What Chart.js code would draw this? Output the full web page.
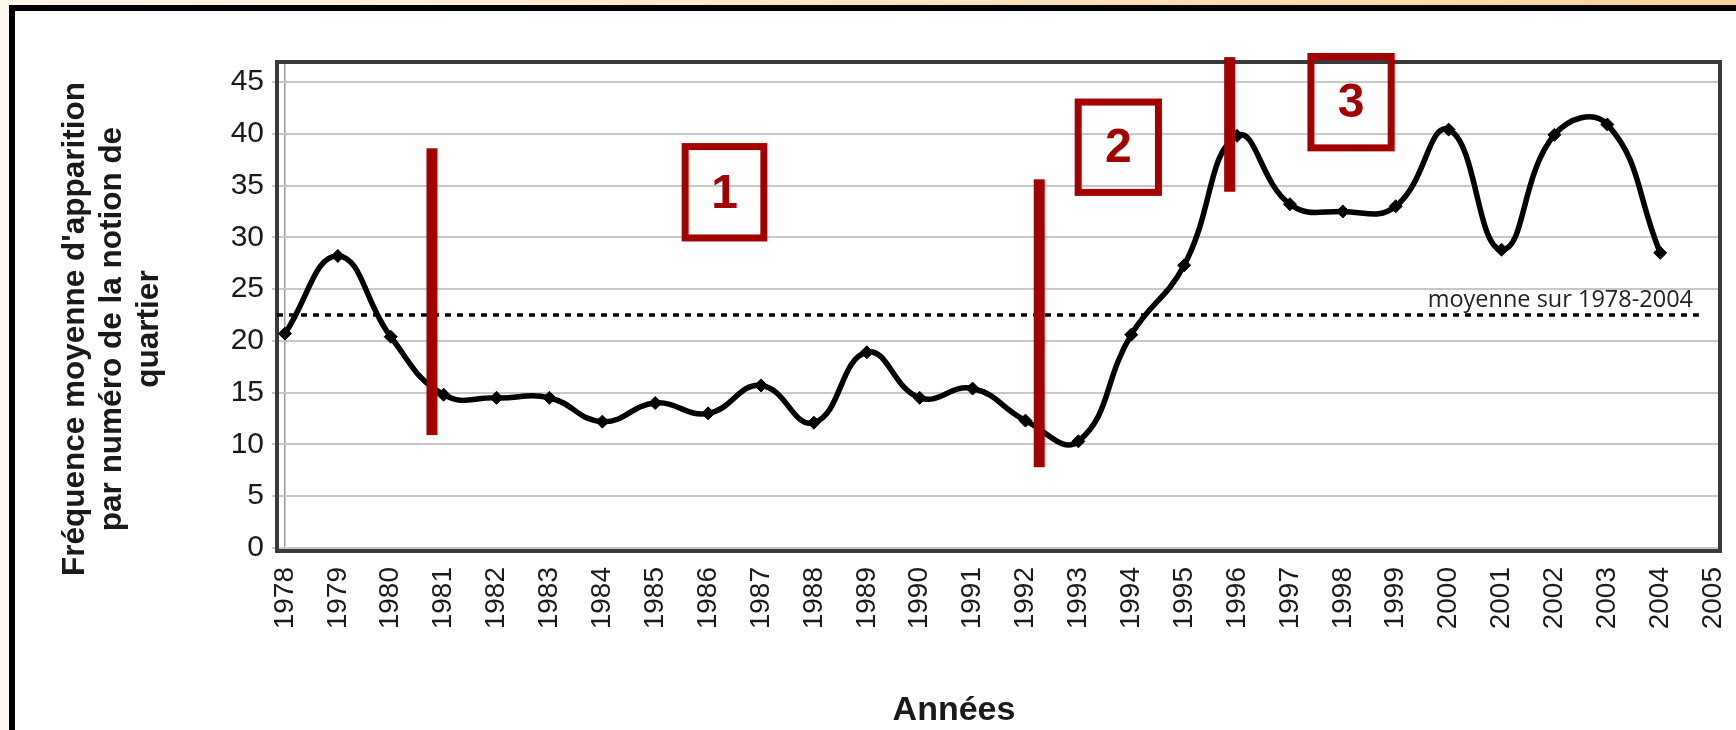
<!DOCTYPE html>
<html><head><meta charset="utf-8">
<script src="https://cdn.jsdelivr.net/npm/chart.js@4/dist/chart.umd.min.js"></script>
<style>
html,body{margin:0;padding:0;}
body{width:1736px;height:730px;position:relative;overflow:hidden;background:#fdf8ef;}
#topband{position:absolute;left:0;top:0;width:1736px;height:6px;background:linear-gradient(to right,#fdf6ea,#fad39a);}
#frame{position:absolute;left:9px;top:5px;width:1727px;height:725px;background:#fff;border-left:6px solid #000;border-top:6px solid #000;box-sizing:border-box;}
#wrap{position:absolute;left:0;top:0;width:1736px;height:730px;}
</style></head><body>
<div id="topband"></div><div id="frame"></div>
<div id="wrap"><canvas id="c" width="1736" height="730"></canvas></div>
<script>
// ---- data ----
const years = [1978,1979,1980,1981,1982,1983,1984,1985,1986,1987,1988,1989,1990,1991,1992,1993,1994,1995,1996,1997,1998,1999,2000,2001,2002,2003,2004];
const frequence = [20.7,28.2,20.4,14.8,14.5,14.5,12.2,14.0,13.0,15.7,12.1,18.9,14.5,15.4,12.3,10.3,20.6,27.3,39.8,33.2,32.5,33.0,40.4,28.8,39.9,40.9,28.5];
const moyenne = 22.5;
const moyenneLabel = 'moyenne sur 1978-2004';
const xTickLabels = [1978,1979,1980,1981,1982,1983,1984,1985,1986,1987,1988,1989,1990,1991,1992,1993,1994,1995,1996,1997,1998,1999,2000,2001,2002,2003,2004,2005];
const yTickLabels = [0,5,10,15,20,25,30,35,40,45];
const yTitle = ["Fréquence moyenne d'apparition", "par numéro de la notion de", "quartier"];
const xTitle = 'Années';
// period separators (year) and phase boxes
const ruptures = [1980.78, 1992.26, 1995.86];
const rupturesHaut = [38.6, 35.6, 47.4];
const rupturesBas = [10.9, 7.8, 34.4];
const phases = ['1','2','3'];
const phasesX = [[1985.5,1987.12],[1992.93,1994.58],[1997.33,1998.98]];
const phasesY = [[39.1,29.6],[43.4,34.0],[47.8,38.3]];

const RED = '#a30000';
const TICKFONT = '"Liberation Sans", Arial, sans-serif';
const annot = {
  id:'annot',
  beforeDatasetsDraw(chart){
    const {ctx, chartArea:a} = chart;
    ctx.save();
    ctx.strokeStyle='#3a3a3a'; ctx.lineWidth=4;
    ctx.strokeRect(a.left, a.top, a.right-a.left, a.bottom-a.top);
    ctx.restore();
  },
  afterDatasetsDraw(chart){
    const {ctx} = chart; const xs=chart.scales.x, ys=chart.scales.y;
    ctx.save();
    // mean label
    ctx.fillStyle='#222'; ctx.font='23.5px "Open Sans"'; ctx.textAlign='right'; ctx.textBaseline='alphabetic';
    ctx.fillText(moyenneLabel, xs.getPixelForValue(2004.62), ys.getPixelForValue(moyenne)-8);
    // separators
    ctx.fillStyle=RED;
    ruptures.forEach((r,i)=>{
      const x=xs.getPixelForValue(r), y1=ys.getPixelForValue(rupturesHaut[i]), y2=ys.getPixelForValue(rupturesBas[i]);
      ctx.fillRect(x-5.5, y1, 11, y2-y1);
    });
    // boxes
    ctx.strokeStyle=RED; ctx.lineWidth=7;
    phases.forEach((p,i)=>{
      const x1=xs.getPixelForValue(phasesX[i][0]), x2=xs.getPixelForValue(phasesX[i][1]);
      const y1=ys.getPixelForValue(phasesY[i][0]), y2=ys.getPixelForValue(phasesY[i][1]);
      ctx.strokeRect(x1+3.5, y1+3.5, x2-x1-7, y2-y1-7);
      ctx.font='bold 48px "Liberation Sans"'; ctx.textAlign='center'; ctx.textBaseline='middle';
      ctx.fillText(p, (x1+x2)/2, (y1+y2)/2+2);
    });
    // axis titles
    ctx.fillStyle='#1a1a1a';
    ctx.font='bold 34px "Liberation Sans"'; ctx.textAlign='center'; ctx.textBaseline='middle';
    ctx.fillText(xTitle, 954, 711);
    ctx.save();
    ctx.font='bold 31.5px "Liberation Sans"';
    ctx.translate(0, 329); ctx.rotate(-Math.PI/2);
    yTitle.forEach((t,i)=>{ ctx.fillText(t, 0, 75 + i*37); });
    ctx.restore();
    ctx.restore();
  }
};

new Chart(document.getElementById('c'), {
  type:'line',
  data:{
    datasets:[
      {
        data: years.map((y,i)=>({x:y, y:frequence[i]})),
        borderColor:'#000', borderWidth:5.5, tension:0.45,
        pointStyle:'rectRot', pointRadius:6.5, pointBackgroundColor:'#000', pointBorderColor:'#000', pointBorderWidth:1,
        order:0
      },
      {
        data:[{x:1977.85,y:moyenne},{x:2004.73,y:moyenne}],
        borderColor:'#000', borderWidth:3.5, borderDash:[6,6], pointRadius:0, order:1
      }
    ]
  },
  options:{
    responsive:false, devicePixelRatio:1, animation:false,
    layout:{padding:{top:62,right:16,left:0,bottom:0}},
    plugins:{legend:{display:false}, tooltip:{enabled:false}},
    scales:{
      x:{
        type:'linear', min:1977.85, max:2005.13,
        afterBuildTicks(s){ s.ticks = xTickLabels.map(v=>({value:v})); },
        afterFit(s){ s.height = 179; s.paddingLeft = 0; s.paddingRight = 0; },
        ticks:{ autoSkip:false, minRotation:90, maxRotation:90, padding:16, color:'#1a1a1a',
          font:{family:TICKFONT, size:28}, callback:(v)=>String(v) },
        grid:{ drawTicks:false, lineWidth:1.5, color:(c)=> c.index===0 ? '#9a9a9a' : 'rgba(0,0,0,0)' },
        border:{display:false}
      },
      y:{
        type:'linear', min:-0.29, max:46.93,
        afterBuildTicks(s){ s.ticks = yTickLabels.map(v=>({value:v})); },
        afterFit(s){ s.width = 277; },
        ticks:{ padding:8, color:'#1a1a1a', font:{family:TICKFONT, size:30}, callback:(v)=>String(v) },
        grid:{ color:'#c8c8c8', lineWidth:2, tickLength:5 },
        border:{display:false}
      }
    }
  },
  plugins:[annot]
});
</script>
</body></html>
